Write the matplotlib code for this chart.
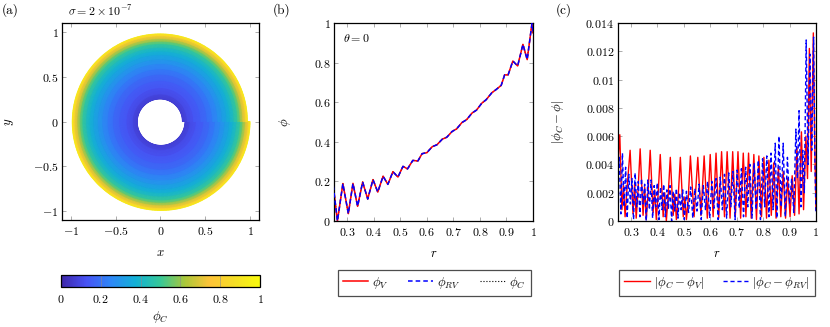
import numpy as np
import matplotlib.pyplot as plt
from matplotlib.colors import LinearSegmentedColormap
from matplotlib.ticker import FuncFormatter, MultipleLocator

plt.rcParams['font.family'] = 'serif'
plt.rcParams['font.serif'] = ['cmr10', 'DejaVu Serif']
plt.rcParams['mathtext.fontset'] = 'cm'
plt.rcParams['axes.unicode_minus'] = False

# ---- data ----
# (a) colour of the spiral rings: radius at theta=0 and phi_C
ring_r = [0.245, 0.30, 0.37, 0.45, 0.52, 0.58, 0.64, 0.69, 0.74, 0.78,
          0.82, 0.86, 0.89, 0.92, 0.95, 0.97]
ring_phi = [0.07, 0.10, 0.13, 0.16, 0.19, 0.23, 0.27, 0.31, 0.35, 0.39,
            0.44, 0.50, 0.58, 0.68, 0.80, 0.95]

# (b) phi along theta = 0
r_b = [0.247, 0.263, 0.2835, 0.304, 0.3215, 0.339, 0.358, 0.377, 0.397, 0.415,
       0.435, 0.453, 0.472, 0.491, 0.510, 0.527, 0.547, 0.566, 0.582, 0.600,
       0.620, 0.638, 0.658, 0.675, 0.695, 0.712, 0.732, 0.750, 0.770, 0.787,
       0.807, 0.823, 0.845, 0.862, 0.880, 0.893, 0.906, 0.924, 0.942, 0.962,
       0.978, 0.996, 1.0]
phi_b = [0.18, 0.0, 0.189, 0.037, 0.19, 0.074, 0.197, 0.111, 0.209, 0.146,
         0.226, 0.185, 0.249, 0.222, 0.276, 0.263, 0.306, 0.303, 0.340, 0.345,
         0.375, 0.385, 0.413, 0.423, 0.452, 0.465, 0.497, 0.512, 0.545, 0.560,
         0.595, 0.612, 0.648, 0.665, 0.685, 0.738, 0.738, 0.808, 0.783, 0.892,
         0.815, 0.997, 0.95]

# (c) |phi_C - phi_V|
r_cv = [0.250, 0.258, 0.266, 0.272, 0.278, 0.284, 0.297, 0.308, 0.314, 0.320,
        0.326, 0.335, 0.346, 0.352, 0.358, 0.364, 0.373, 0.384, 0.390, 0.396,
        0.402, 0.411, 0.422, 0.428, 0.434, 0.440, 0.449, 0.460, 0.466, 0.472,
        0.478, 0.487, 0.498, 0.504, 0.510, 0.516, 0.525, 0.539, 0.553, 0.565,
        0.577, 0.589, 0.600, 0.611, 0.622, 0.632, 0.643, 0.654, 0.664, 0.675,
        0.685, 0.695, 0.705, 0.715, 0.725, 0.735, 0.745, 0.755, 0.765, 0.775,
        0.784, 0.794, 0.803, 0.813, 0.822, 0.831, 0.840, 0.849, 0.858, 0.867,
        0.876, 0.885, 0.893, 0.902, 0.910, 0.919, 0.928, 0.936, 0.945, 0.953,
        0.962, 0.968, 0.975, 0.982, 0.990, 0.995, 1.0]
err_v = [0.0040, 0.0061, 0.0008, 0.0025, 0.0003, 0.0020, 0.0050, 0.0005, 0.0026, 0.0002,
         0.0018, 0.0051, 0.0004, 0.0024, 0.0001, 0.0017, 0.0050, 0.0006, 0.0022, 0.0001,
         0.0016, 0.0047, 0.0003, 0.0020, 0.0000, 0.0015, 0.0045, 0.0004, 0.0019, 0.0001,
         0.0014, 0.0045, 0.0003, 0.0017, 0.0001, 0.0013, 0.0046, 0.0003, 0.0045, 0.0004,
         0.0046, 0.0002, 0.0047, 0.0003, 0.0048, 0.0002, 0.0049, 0.0003, 0.0049, 0.0002,
         0.0049, 0.0004, 0.0049, 0.0002, 0.0048, 0.0003, 0.0048, 0.0002, 0.0047, 0.0001,
         0.0046, 0.0003, 0.0045, 0.0002, 0.0043, 0.0004, 0.0041, 0.0002, 0.0038, 0.0003,
         0.0035, 0.0002, 0.0030, 0.0003, 0.0032, 0.0004, 0.0052, 0.0005, 0.0063, 0.0008,
         0.0060, 0.0030, 0.0122, 0.0035, 0.0133, 0.0060, 0.0008]

# (c) |phi_C - phi_RV|
r_crv = [0.250, 0.256, 0.262, 0.268, 0.274, 0.280, 0.286, 0.292, 0.298, 0.304,
         0.310, 0.316, 0.322, 0.328, 0.334, 0.340, 0.346, 0.352, 0.358, 0.364,
         0.370, 0.376, 0.382, 0.388, 0.394, 0.400, 0.406, 0.412, 0.418, 0.424,
         0.430, 0.436, 0.442, 0.448, 0.454, 0.460, 0.466, 0.472, 0.478, 0.484,
         0.490, 0.496, 0.502, 0.510, 0.518, 0.526, 0.534, 0.542, 0.550, 0.558,
         0.566, 0.574, 0.582, 0.590, 0.598, 0.606, 0.614, 0.622, 0.630, 0.638,
         0.646, 0.654, 0.662, 0.670, 0.678, 0.686, 0.694, 0.702, 0.710, 0.718,
         0.726, 0.734, 0.742, 0.750, 0.758, 0.766, 0.774, 0.782, 0.790, 0.798,
         0.806, 0.814, 0.822, 0.830, 0.838, 0.846, 0.852, 0.860, 0.868, 0.876,
         0.884, 0.892, 0.900, 0.908, 0.916, 0.924, 0.930, 0.936, 0.943, 0.950,
         0.956, 0.963, 0.970, 0.977, 0.984, 0.991, 0.996, 1.0]
err_rv = [0.0030, 0.0045, 0.0005, 0.0048, 0.0010, 0.0038, 0.0002, 0.0033, 0.0012, 0.0030,
          0.0001, 0.0034, 0.0010, 0.0028, 0.0003, 0.0030, 0.0012, 0.0026, 0.0000, 0.0029,
          0.0008, 0.0029, 0.0002, 0.0025, 0.0010, 0.0027, 0.0001, 0.0024, 0.0008, 0.0026,
          0.0003, 0.0022, 0.0009, 0.0025, 0.0000, 0.0021, 0.0007, 0.0023, 0.0002, 0.0020,
          0.0008, 0.0022, 0.0001, 0.0021, 0.0006, 0.0024, 0.0002, 0.0023, 0.0007, 0.0026,
          0.0001, 0.0025, 0.0008, 0.0028, 0.0002, 0.0028, 0.0009, 0.0030, 0.0001, 0.0031,
          0.0008, 0.0033, 0.0002, 0.0034, 0.0010, 0.0035, 0.0001, 0.0036, 0.0009, 0.0037,
          0.0003, 0.0038, 0.0010, 0.0040, 0.0002, 0.0041, 0.0008, 0.0043, 0.0001, 0.0044,
          0.0010, 0.0046, 0.0003, 0.0048, 0.0008, 0.0055, 0.0002, 0.0060, 0.0010, 0.0055,
          0.0003, 0.0045, 0.0012, 0.0030, 0.0006, 0.0065, 0.0030, 0.0078, 0.0010, 0.0050,
          0.0020, 0.0128, 0.0040, 0.0118, 0.0050, 0.0130, 0.0040, 0.0005]

ticks_xy = [-1, -0.5, 0, 0.5, 1]
ticks_cb = [0, 0.2, 0.4, 0.6, 0.8, 1]

# parula-like colormap
parula = LinearSegmentedColormap.from_list('parula', [
    (0.2422, 0.1504, 0.6603), (0.2810, 0.3228, 0.9578), (0.1786, 0.5289, 0.9682),
    (0.0689, 0.6948, 0.8394), (0.2161, 0.7843, 0.5923), (0.6720, 0.7793, 0.2227),
    (0.9970, 0.7659, 0.2199), (0.9600, 0.8700, 0.1500), (0.9763, 0.9831, 0.0538)])

fmt = FuncFormatter(lambda v, p: '$%g$' % (round(v, 6) + 0.0))
FS = 8.6
LS = 9.2


def style(ax):
    ax.tick_params(direction='in', length=3, width=0.5, color='0.55',
                   top=True, right=True, labelsize=FS, pad=3.5)
    ax.tick_params(axis='y', pad=2.5)
    ax.xaxis.set_major_formatter(fmt)
    ax.yaxis.set_major_formatter(fmt)
    for s in ax.spines.values():
        s.set_linewidth(0.9)


fig = plt.figure(figsize=(8.3, 3.27), dpi=100)
ax_a = fig.add_axes([0.0747, 0.3272, 0.2373, 0.6024])
ax_b = fig.add_axes([0.4024, 0.3242, 0.2398, 0.6055])
ax_c = fig.add_axes([0.7442, 0.3242, 0.2389, 0.6055])
cax = fig.add_axes([0.0735, 0.1223, 0.2398, 0.0367])

# (a) spiral annulus coloured by phi_C
theta = np.linspace(0, 2 * np.pi, 361)
R = np.array(ring_r)[:, None] + 0.03 * theta[None, :] / (2 * np.pi)
X = R * np.cos(theta)[None, :]
Y = R * np.sin(theta)[None, :]
C = np.repeat(np.array(ring_phi)[:, None], len(theta), axis=1)
mesh = ax_a.pcolormesh(X, Y, C, shading='gouraud', cmap=parula, vmin=0, vmax=1)
ax_a.set_xlim(-1.1, 1.1)
ax_a.set_ylim(-1.1, 1.1)
ax_a.set_xticks(ticks_xy)
ax_a.set_yticks(ticks_xy)
style(ax_a)
ax_a.set_xlabel('$x$', fontsize=LS)
ax_a.set_ylabel('$y$', fontsize=LS)
ax_a.xaxis.set_label_coords(0.5, -0.135)
ax_a.yaxis.set_label_coords(-0.235, 0.5)
ax_a.text(0.03, 1.025, r'$\sigma = 2\times10^{-7}$', transform=ax_a.transAxes,
          fontsize=FS, va='bottom', ha='left')

cb = fig.colorbar(mesh, cax=cax, orientation='horizontal', ticks=ticks_cb)
cb.outline.set_linewidth(0.9)
cax.xaxis.set_major_formatter(fmt)
cax.tick_params(direction='in', length=4.3, width=0.4, color='0.55',
                top=True, labelsize=FS, pad=4)
cax.set_xlabel(r'$\phi_C$', fontsize=LS)
cax.xaxis.set_label_coords(0.5, -1.85)

# (b)
l_c, = ax_b.plot(r_b, phi_b, color='black', lw=0.8, ls=':', zorder=1)
l_v, = ax_b.plot(r_b, phi_b, color='red', lw=1.1, zorder=2)
l_rv, = ax_b.plot(r_b, phi_b, color='blue', lw=1.1, ls=(0, (3, 2)), zorder=3)
ax_b.set_xlim(0.25, 1)
ax_b.set_ylim(0, 1)
ax_b.xaxis.set_major_locator(MultipleLocator(0.1))
ax_b.yaxis.set_major_locator(MultipleLocator(0.2))
style(ax_b)
ax_b.set_xlabel('$r$', fontsize=LS)
ax_b.set_ylabel(r'$\phi$', fontsize=LS)
ax_b.xaxis.set_label_coords(0.5, -0.135)
ax_b.yaxis.set_label_coords(-0.205, 0.5)
ax_b.text(0.045, 0.955, r'$\theta = 0$', transform=ax_b.transAxes,
          fontsize=FS, va='top', ha='left')

# (c)
e_v, = ax_c.plot(r_cv, err_v, color='red', lw=1.0)
e_rv, = ax_c.plot(r_crv, err_rv, color='blue', lw=1.0, ls=(0, (3, 2)))
ax_c.set_xlim(0.25, 1)
ax_c.set_ylim(0, 0.014)
ax_c.xaxis.set_major_locator(MultipleLocator(0.1))
ax_c.yaxis.set_major_locator(MultipleLocator(0.002))
style(ax_c)
ax_c.set_xlabel('$r$', fontsize=LS)
ax_c.set_ylabel(r'$|\phi_C - \phi|$', fontsize=LS)
ax_c.xaxis.set_label_coords(0.5, -0.135)
ax_c.yaxis.set_label_coords(-0.26, 0.5)

leg_kw = dict(loc='center', frameon=True, fancybox=False, fontsize=LS,
              handlelength=2.0, handletextpad=0.3, columnspacing=1.5,
              borderpad=0.4, edgecolor='0.3', framealpha=1)
lg = fig.legend([l_v, l_rv, l_c], [r'$\phi_V$', r'$\phi_{RV}$', r'$\phi_C$'],
                ncol=3, bbox_to_anchor=(0.5231, 0.135), **leg_kw)
lg.get_frame().set_linewidth(0.9)
lg2 = fig.legend([e_v, e_rv], [r'$|\phi_C - \phi_V|$', r'$|\phi_C - \phi_{RV}|$'],
                 ncol=2, bbox_to_anchor=(0.8637, 0.135), **leg_kw)
lg2.get_frame().set_linewidth(0.9)

for x0, lab in [(2, '(a)'), (273, '(b)'), (556, '(c)')]:
    fig.text(x0 / 830, 1 - 10 / 327, lab, fontsize=9.5, va='center', ha='left')

fig.savefig('out.png', dpi=100)
